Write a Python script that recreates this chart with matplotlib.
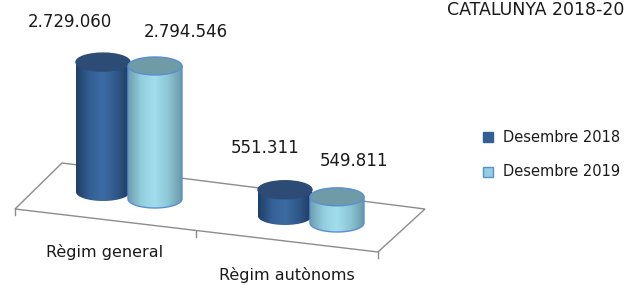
import numpy as np
import matplotlib
matplotlib.use('Agg')
import matplotlib.pyplot as plt
from matplotlib.patches import Ellipse, Polygon, Rectangle, PathPatch
from matplotlib.path import Path
from matplotlib.colors import LinearSegmentedColormap

# dades
categories = ['Règim general', 'Règim autònoms']
series_names = ['Desembre 2018', 'Desembre 2019']
dec_2018 = [2729060, 551311]
dec_2019 = [2794546, 549811]
title = 'CATALUNYA 2018-20'

values = [dec_2018, dec_2019]

# estil dels cilindres (costat: vora fosca, centre, reflex)
side_cols = [['#203f66', '#335f94', '#3d6ca4', '#2f5889', '#1f3c62'],
             ['#6f9fae', '#93cfe0', '#a2dded', '#8cc6d6', '#6b99a7']]
top_cols = ['#2c4b75', '#6e9ba6']
edge_cols = [None, '#5a8fd2']
legend_cols = ['#335f92', '#93cfe0']

plt.rcParams['font.family'] = ['DejaVu Sans']
fig = plt.figure(figsize=(6.27, 2.85), dpi=100)
ax = fig.add_axes([0, 0, 1, 1])

# "terra" en perspectiva (coordenades en píxels)
floor = [(15, 209), (62, 163), (425, 209), (378, 252)]
ax.add_patch(Polygon(floor, closed=True, fill=False, ec='#8c8c8c', lw=1.0))
for tx, ty in [(15, 209), (196, 230.5), (378, 252)]:
    ax.plot([tx, tx], [ty, ty + 6], color='#8c8c8c', lw=1.0)

# geometria dels cilindres
px_per_unit = 47.6e-6
rx, ry = 27, 9
base_x, base_y = 103, 192
cat_dx, cat_dy = 182, 24
ser_dx, ser_dy = 52, 7
label_off = [[(-33, -40), (-20, -42)], [(31, -34), (17, -36)]]


def cylinder(cx, yb, h, j):
    yt = yb - h
    t = np.linspace(0, np.pi, 40)
    bottom = np.column_stack([cx - rx * np.cos(t), yb + ry * np.sin(t)])
    verts = np.vstack([[cx - rx, yt], bottom, [cx + rx, yt], [cx - rx, yt]])
    codes = [Path.MOVETO] + [Path.LINETO] * (len(verts) - 2) + [Path.CLOSEPOLY]
    side = PathPatch(Path(verts, codes), fc='none',
                     ec=edge_cols[j] or 'none', lw=1.0, zorder=3)
    ax.add_patch(side)
    cmap = LinearSegmentedColormap.from_list('c%d' % j, side_cols[j])
    grad = np.linspace(0, 1, 100).reshape(1, -1)
    im = ax.imshow(grad, cmap=cmap, extent=(cx - rx, cx + rx, yb + ry, yt),
                   aspect='auto', zorder=2.9, interpolation='bilinear')
    im.set_clip_path(side)
    ax.add_patch(Ellipse((cx, yt), 2 * rx, 2 * ry, fc=top_cols[j],
                         ec=edge_cols[j] or top_cols[j], lw=1.0, zorder=3.1))
    return yt


for i, cat in enumerate(categories):
    for j in range(len(series_names)):
        v = values[j][i]
        cx = base_x + cat_dx * i + ser_dx * j
        yb = base_y + cat_dy * i + ser_dy * j
        yt = cylinder(cx, yb, v * px_per_unit, j)
        dx, dy = label_off[j][i]
        ax.text(cx + dx, yt + dy, f'{v:,}'.replace(',', '.'), ha='center',
                va='center', fontsize=12, color='#1a1a1a', zorder=5)
    ax.text(base_x + 2 + cat_dx * i, 252 + 23 * i, cat, ha='center', va='center',
            fontsize=11.5, color='#1a1a1a')

# llegenda
for j, name in enumerate(series_names):
    y = 137 + 35 * j
    ax.add_patch(Rectangle((483, y - 5), 10, 10, fc=legend_cols[j],
                           ec=edge_cols[j] or legend_cols[j], lw=1.0))
    ax.text(503, y, name, ha='left', va='center', fontsize=10.5, color='#1a1a1a')

ax.text(624, 10, title, ha='right', va='center', fontsize=12.5, color='#1a1a1a')

ax.set_xlim(0, 627)
ax.set_ylim(285, 0)
ax.axis('off')
fig.savefig('out.png', dpi=100)
